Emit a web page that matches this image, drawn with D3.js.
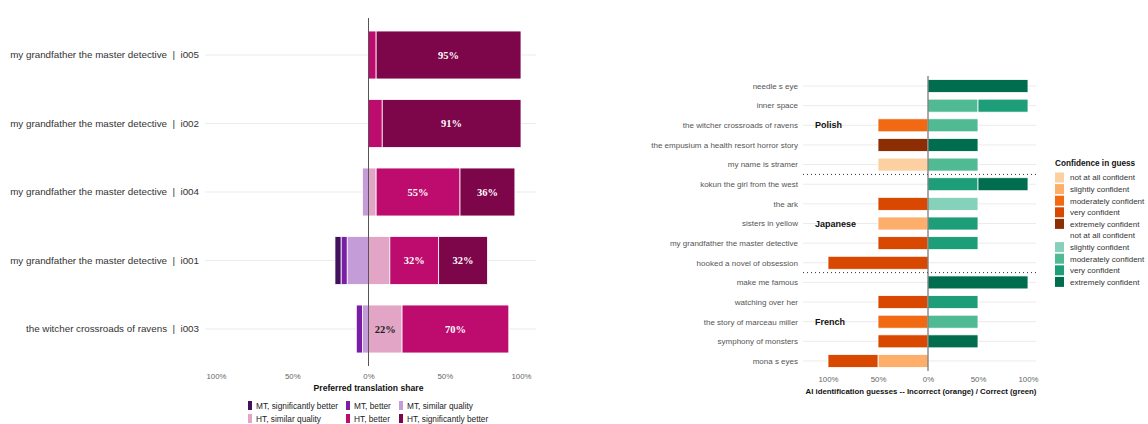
<!DOCTYPE html>
<html>
<head>
<meta charset="utf-8">
<script src="https://cdn.jsdelivr.net/npm/d3@7"></script>
<style>
  body { margin: 0; background: #fff; }
  svg text { font-family: "Liberation Sans", Arial, sans-serif; }
</style>
</head>
<body>
<div id="chart"></div>
<script>
// ---- left chart data: preferred translation share ----
var prefRows = ["my grandfather the master detective \u00a0|\u00a0 i005",
                "my grandfather the master detective \u00a0|\u00a0 i002",
                "my grandfather the master detective \u00a0|\u00a0 i004",
                "my grandfather the master detective \u00a0|\u00a0 i001",
                "the witcher crossroads of ravens \u00a0|\u00a0 i003"];
var prefCats = ["MT, significantly better", "MT, better", "MT, similar quality",
                "HT, similar quality", "HT, better", "HT, significantly better"];
var prefColors = ["#43105e", "#7a1ea6", "#c39cd8", "#e3a5c5", "#bd0b6e", "#7d054a"];
var mtSig     = [0, 0, 0, 4, 0];
var mtBetter  = [0, 0, 0, 4, 4];
var mtSimilar = [0, 0, 4, 14, 4];
var htSimilar = [0, 0, 5, 14, 22];
var htBetter  = [5, 9, 55, 32, 70];
var htSig     = [95, 91, 36, 32, 0];
var prefTicks = ["100%", "50%", "0%", "50%", "100%"];

// ---- right chart data: AI identification guesses ----
var books = ["needle s eye", "inner space", "the witcher crossroads of ravens",
             "the empusium a health resort horror story", "my name is stramer",
             "kokun the girl from the west", "the ark", "sisters in yellow",
             "my grandfather the master detective", "hooked a novel of obsession",
             "make me famous", "watching over her", "the story of marceau miller",
             "symphony of monsters", "mona s eyes"];
var languages = ["Polish", "Japanese", "French"];
var langRow = [2, 7, 12];
var confLevels = ["not at all confident", "slightly confident", "moderately confident",
                  "very confident", "extremely confident"];
var wrongColors = ["#fdd0a2", "#fdae6b", "#f16913", "#d94801", "#8c2d04"];
var rightColors = ["#ffffff", "#86d1b9", "#4fba94", "#1d9e78", "#006d4f"];
// % of guesses per confidence level (not, slightly, moderately, very, extremely)
var incorrect = [[0,0,0,0,0],[0,0,0,0,0],[0,0,50,0,0],[0,0,0,0,50],[50,0,0,0,0],
                 [0,0,0,0,0],[0,0,0,50,0],[0,50,0,0,0],[0,0,0,50,0],[0,0,0,100,0],
                 [0,0,0,0,0],[0,0,0,50,0],[0,0,50,0,0],[0,0,0,50,0],[0,50,0,50,0]];
var correct   = [[0,0,0,0,100],[0,0,50,50,0],[0,0,50,0,0],[0,0,0,0,50],[0,0,50,0,0],
                 [0,0,0,50,50],[0,50,0,0,0],[0,0,0,50,0],[0,0,0,50,0],[0,0,0,0,0],
                 [0,0,0,0,100],[0,0,0,50,0],[0,0,50,0,0],[0,0,0,0,50],[0,0,0,0,0]];
var aiTicks = ["100%", "50%", "0%", "50%", "100%"];

var svg = d3.select("#chart").append("svg")
  .attr("width", 1148).attr("height", 424);

// ================= left chart =================
var xL = d3.scaleLinear().domain([-100, 100]).range([216, 521]);
var yL = d3.scaleBand().domain(prefRows).range([20.75, 363.25])
  .paddingInner(0.3).paddingOuter(0.15);
var gL = svg.append("g");

gL.selectAll("line.grid").data(prefRows).enter().append("line")
  .attr("x1", 205).attr("x2", 536)
  .attr("y1", d => yL(d) + yL.bandwidth() / 2)
  .attr("y2", d => yL(d) + yL.bandwidth() / 2)
  .style("stroke", "#ebebeb").style("stroke-width", 1);

gL.selectAll("text.row").data(prefRows).enter().append("text")
  .attr("x", 199).attr("y", d => yL(d) + yL.bandwidth() / 2)
  .attr("dy", "0.35em").attr("text-anchor", "end")
  .style("font-size", "9.8px").style("fill", "#333")
  .text(d => d);

// build segments
var prefSegs = [];
prefRows.forEach(function(row, i) {
  var neg = [[2, mtSimilar[i]], [1, mtBetter[i]], [0, mtSig[i]]];
  var pos = [[3, htSimilar[i]], [4, htBetter[i]], [5, htSig[i]]];
  var acc = 0;
  neg.forEach(function(s) {
    if (s[1] > 0) prefSegs.push({row: row, cat: s[0], v: s[1], x0: -acc - s[1], x1: -acc});
    acc += s[1];
  });
  acc = 0;
  pos.forEach(function(s) {
    if (s[1] > 0) prefSegs.push({row: row, cat: s[0], v: s[1], x0: acc, x1: acc + s[1]});
    acc += s[1];
  });
});

gL.selectAll("rect.seg").data(prefSegs).enter().append("rect")
  .attr("x", d => xL(d.x0)).attr("width", d => xL(d.x1) - xL(d.x0))
  .attr("y", d => yL(d.row)).attr("height", yL.bandwidth())
  .style("fill", d => prefColors[d.cat])
  .style("stroke", "#fff").style("stroke-width", 0.8);

gL.selectAll("text.val").data(prefSegs.filter(d => d.v >= 20)).enter().append("text")
  .attr("x", d => xL((d.x0 + d.x1) / 2))
  .attr("y", d => yL(d.row) + yL.bandwidth() / 2)
  .attr("dy", "0.35em").attr("text-anchor", "middle")
  .style("font-family", "'Liberation Serif', serif").style("font-weight", "bold")
  .style("font-size", "10.5px")
  .style("fill", d => d.cat === 3 ? "#222" : "#fff")
  .text(d => d.v + "%");

gL.append("line")
  .attr("x1", xL(0)).attr("x2", xL(0)).attr("y1", 18).attr("y2", 366)
  .style("stroke", "#555").style("stroke-width", 1);

var axL = d3.axisBottom(xL).tickValues([-100, -50, 0, 50, 100])
  .tickFormat((d, i) => prefTicks[i]).tickSize(0).tickPadding(0);
gL.append("g").attr("transform", "translate(0,373)").call(axL)
  .call(g => g.select(".domain").remove())
  .selectAll("text").style("font-size", "7.8px").style("fill", "#666")
  .style("font-family", "'Liberation Sans', Arial, sans-serif");

gL.append("text").attr("x", xL(0)).attr("y", 391).attr("text-anchor", "middle")
  .style("font-size", "8.6px").style("font-weight", "bold").style("fill", "#111")
  .text("Preferred translation share");

var legL = gL.selectAll("g.leg").data(prefCats).enter().append("g")
  .attr("transform", function(d, i) {
    var cx = [248, 346, 399][i % 3];
    var cy = i < 3 ? 406 : 419;
    return "translate(" + cx + "," + cy + ")";
  });
legL.append("rect").attr("x", 0).attr("y", -5).attr("width", 4).attr("height", 9)
  .style("fill", (d, i) => prefColors[i]);
legL.append("text").attr("x", 8).attr("y", 0).attr("dy", "0.35em")
  .style("font-size", "8.3px").style("fill", "#222").text(d => d);

// ================= right chart =================
var xR = d3.scaleLinear().domain([-100, 100]).range([828, 1028]);
var yR = d3.scaleBand().domain(books).range([76.2, 370.8])
  .paddingInner(0.338).paddingOuter(0.169);
var gR = svg.append("g");
var mid = d => yR(d) + yR.bandwidth() / 2;

gR.selectAll("line.grid").data(books).enter().append("line")
  .attr("x1", 803).attr("x2", 1036).attr("y1", mid).attr("y2", mid)
  .style("stroke", "#ebebeb").style("stroke-width", 1);

gR.selectAll("text.row").data(books).enter().append("text")
  .attr("x", 798).attr("y", mid).attr("dy", "0.35em").attr("text-anchor", "end")
  .style("font-size", "8px").style("fill", "#555").text(d => d);

var aiSegs = [];
books.forEach(function(b, i) {
  var acc = 0;
  incorrect[i].forEach(function(v, k) {
    if (v > 0) aiSegs.push({row: b, color: wrongColors[k], x0: -acc - v, x1: -acc});
    acc += v;
  });
  acc = 0;
  correct[i].forEach(function(v, k) {
    if (v > 0) aiSegs.push({row: b, color: rightColors[k], x0: acc, x1: acc + v});
    acc += v;
  });
});

gR.selectAll("rect.seg").data(aiSegs).enter().append("rect")
  .attr("x", d => xR(d.x0)).attr("width", d => xR(d.x1) - xR(d.x0))
  .attr("y", d => yR(d.row)).attr("height", yR.bandwidth())
  .style("fill", d => d.color)
  .style("stroke", "#fff").style("stroke-width", 0.8);

// dotted separators between language groups
[5, 10].forEach(function(k) {
  var yy = (yR(books[k - 1]) + yR.bandwidth() + yR(books[k])) / 2;
  gR.append("line").attr("x1", 803).attr("x2", 1036).attr("y1", yy).attr("y2", yy)
    .style("stroke", "#333").style("stroke-width", 1).style("stroke-dasharray", "1,3");
});

gR.selectAll("text.lang").data(languages).enter().append("text")
  .attr("x", 815).attr("y", (d, i) => mid(books[langRow[i]]))
  .attr("dy", "0.35em").style("font-size", "9px").style("font-weight", "bold")
  .style("fill", "#111").text(d => d);

gR.append("line")
  .attr("x1", xR(0)).attr("x2", xR(0)).attr("y1", 76).attr("y2", 371)
  .style("stroke", "#555").style("stroke-width", 1);

var axR = d3.axisBottom(xR).tickValues([-100, -50, 0, 50, 100])
  .tickFormat((d, i) => aiTicks[i]).tickSize(0).tickPadding(0);
gR.append("g").attr("transform", "translate(0,376)").call(axR)
  .call(g => g.select(".domain").remove())
  .selectAll("text").style("font-size", "7.8px").style("fill", "#666")
  .style("font-family", "'Liberation Sans', Arial, sans-serif");

gR.append("text").attr("x", 921).attr("y", 394).attr("text-anchor", "middle")
  .style("font-size", "7.8px").style("font-weight", "bold").style("fill", "#111")
  .text("AI identification guesses -- Incorrect (orange) / Correct (green)");

gR.append("text").attr("x", 1055).attr("y", 166)
  .style("font-size", "8.2px").style("font-weight", "bold").style("fill", "#111")
  .text("Confidence in guess");

var legItems = [];
confLevels.forEach((c, i) => legItems.push({label: c, color: wrongColors[i]}));
confLevels.forEach((c, i) => legItems.push({label: c, color: rightColors[i]}));
var legR = gR.selectAll("g.leg").data(legItems).enter().append("g")
  .attr("transform", (d, i) => "translate(1055," + (177.5 + i * 11.6) + ")");
legR.append("rect").attr("x", 0).attr("y", -5).attr("width", 9).attr("height", 10)
  .style("fill", d => d.color);
legR.append("text").attr("x", 15).attr("y", 0).attr("dy", "0.35em")
  .style("font-size", "8px").style("fill", "#333").text(d => d.label);
</script>
</body>
</html>
